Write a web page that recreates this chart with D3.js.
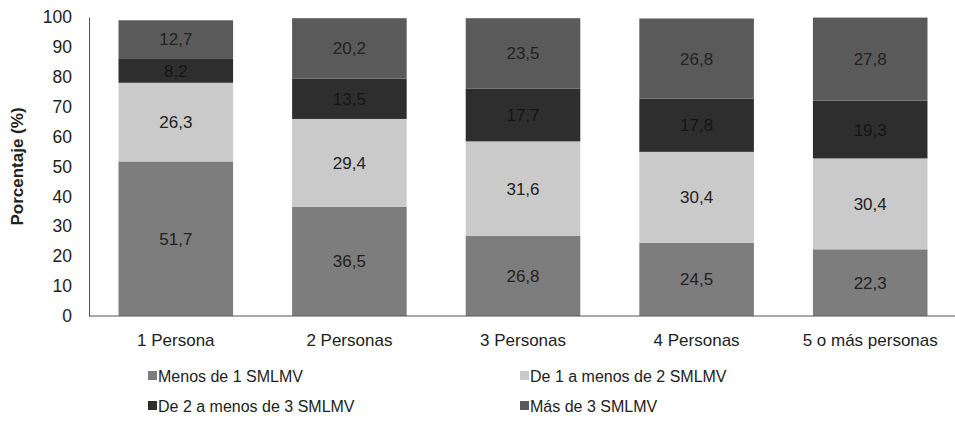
<!DOCTYPE html>
<html>
<head>
<meta charset="utf-8">
<script src="https://cdn.jsdelivr.net/npm/d3@7"></script>
<style>
  body { margin: 0; background: #fff; }
  text { font-family: "Liberation Sans", Arial, sans-serif; }
</style>
</head>
<body>
<div id="chart"></div>
<script>
// data
const categories = ["1 Persona", "2 Personas", "3 Personas", "4 Personas", "5 o más personas"];
const seriesNames = ["Menos de 1 SMLMV", "De 1 a menos de 2 SMLMV", "De 2 a menos de 3 SMLMV", "Más de 3 SMLMV"];
const menos1 = [51.7, 36.5, 26.8, 24.5, 22.3];
const de1a2 = [26.3, 29.4, 31.6, 30.4, 30.4];
const de2a3 = [8.2, 13.5, 17.7, 17.8, 19.3];
const mas3 = [12.7, 20.2, 23.5, 26.8, 27.8];
const yTicks = [0, 10, 20, 30, 40, 50, 60, 70, 80, 90, 100];

const COLORS = ["#7d7d7d", "#cacaca", "#2e2e2e", "#5a5a5a"];

const F_WIDTH = 955;
const F_HEIGHT = 428;
const MARGINS = {left: 89, right: -2, top: 17, bottom: 112};

const svg = d3.select("#chart")
  .append("svg")
    .attr("width", F_WIDTH)
    .attr("height", F_HEIGHT);

const X_SCALE = d3.scaleBand()
  .domain(categories)
  .range([MARGINS.left, F_WIDTH - MARGINS.right])
  .paddingInner(0.34)
  .paddingOuter(0.17);

const Y_SCALE = d3.scaleLinear()
  .domain([0, 100])
  .range([F_HEIGHT - MARGINS.bottom, MARGINS.top]);

// build table for the stack
const table = categories.map((c, i) => ({
  cat: c, s0: menos1[i], s1: de1a2[i], s2: de2a3[i], s3: mas3[i]
}));
const stacked = d3.stack().keys(["s0", "s1", "s2", "s3"])(table);

// bars
stacked.forEach((layer, k) => {
  svg.append("g")
    .selectAll("rect")
    .data(layer)
    .join("rect")
      .attr("x", d => X_SCALE(d.data.cat))
      .attr("width", X_SCALE.bandwidth())
      .attr("y", d => Y_SCALE(d[1]))
      .attr("height", d => Y_SCALE(d[0]) - Y_SCALE(d[1]))
      .attr("fill", COLORS[k]);

  svg.append("g")
    .selectAll("text")
    .data(layer)
    .join("text")
      .attr("x", d => X_SCALE(d.data.cat) + X_SCALE.bandwidth() / 2)
      .attr("y", d => Y_SCALE((d[0] + d[1]) / 2) + 6)
      .attr("text-anchor", "middle")
      .attr("font-size", 17)
      .attr("fill", k === 2 ? "#151515" : "#222")
      .text(d => d3.format(".1f")(d[1] - d[0]).replace(".", ","));
});

// y axis
const yAxis = svg.append("g")
  .attr("transform", "translate(" + MARGINS.left + ",0)")
  .call(d3.axisLeft(Y_SCALE).tickValues(yTicks).tickSize(0).tickPadding(17));
yAxis.select(".domain").attr("stroke", "#555");
yAxis.selectAll("text")
  .attr("font-size", 17.5)
  .attr("fill", "#222")
  .style("font-family", "Liberation Sans, Arial, sans-serif");

// x axis
const xAxis = svg.append("g")
  .attr("transform", "translate(0," + Y_SCALE(0) + ")")
  .call(d3.axisBottom(X_SCALE).tickSize(0).tickPadding(18));
xAxis.select(".domain").attr("stroke", "#555").attr("d", "M" + MARGINS.left + ",0H" + F_WIDTH);
xAxis.selectAll("text")
  .attr("font-size", 17)
  .attr("fill", "#222")
  .style("font-family", "Liberation Sans, Arial, sans-serif");

// y title
svg.append("text")
  .attr("transform", "translate(23," + Y_SCALE(50) + ") rotate(-90)")
  .attr("text-anchor", "middle")
  .attr("font-size", 17)
  .attr("font-weight", "bold")
  .attr("fill", "#222")
  .text("Porcentaje (%)");

// legend
const legendPos = [[148, 382], [520, 382], [148, 412], [520, 412]];
seriesNames.forEach((name, k) => {
  const g = svg.append("g").attr("transform", "translate(" + legendPos[k][0] + "," + legendPos[k][1] + ")");
  g.append("rect").attr("x", 0).attr("y", -11).attr("width", 9).attr("height", 9).attr("fill", COLORS[k]);
  g.append("text").attr("x", 10).attr("y", 0).attr("font-size", 16).attr("fill", "#222").text(name);
});
</script>
</body>
</html>
